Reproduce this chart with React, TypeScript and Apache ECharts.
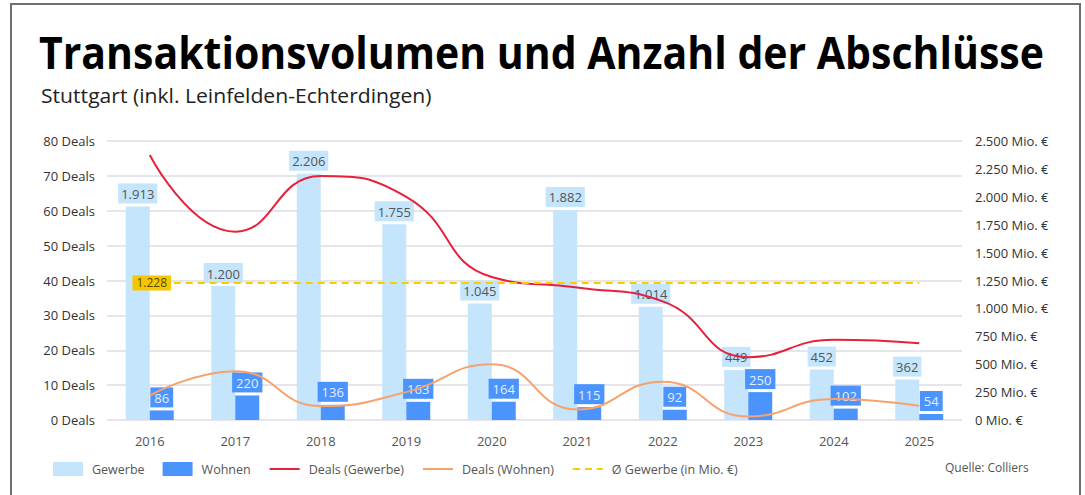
import React, { useEffect, useRef } from 'react';
import * as echarts from 'echarts';

const years = ['2016', '2017', '2018', '2019', '2020', '2021', '2022', '2023', '2024', '2025'];
const gewerbeVolume = [1913, 1200, 2206, 1755, 1045, 1882, 1014, 449, 452, 362];
const wohnenVolume = [86, 220, 136, 163, 164, 115, 92, 250, 102, 54];
const dealsGewerbe = [76, 54, 70, 64, 41, 38, 34, 18, 23, 22];
const dealsWohnen = [7, 14, 4, 8, 16, 3, 11, 1, 6, 4];
const avgGewerbe = 1228;

const titleText = 'Transaktionsvolumen und Anzahl der Abschlüsse';
const subtitleText = 'Stuttgart (inkl. Leinfelden-Echterdingen)';
const sourceText = 'Quelle: Colliers';

const fmt = (v: number) => String(v).replace(/\B(?=(\d{3})+(?!\d))/g, '.');

const FONT = '"Open Sans", "Noto Sans", sans-serif';
const C_GEW = '#c4e5fb';
const C_WOH = '#4c94fd';
const C_RED = '#e6213c';
const C_ORA = '#f7a26c';
const C_YEL = '#f8cd00';

function measure(text: string, font: string): number {
  const ctx = document.createElement('canvas').getContext('2d');
  if (!ctx) return 0;
  ctx.font = font;
  return ctx.measureText(text).width;
}

export default function App() {
  const ref = useRef<HTMLDivElement>(null);
  useEffect(() => {
    document.body.style.margin = '0';
    const chart = echarts.init(ref.current!, null, { renderer: 'svg' });

    const titleW = measure(titleText, 'bold 44px "Open Sans"') || 1005;
    const subW = measure(subtitleText, '20px "Open Sans"') || 391;
    const titleScale = 1005 / titleW;
    const subScale = 391 / subW;

    const hiddenSymbol = { opacity: 0 };

    chart.setOption({
      animation: false,
      backgroundColor: '#ffffff',
      textStyle: { fontFamily: FONT },
      grid: { left: 107, right: 123, top: 141, bottom: 75 },
      legend: {
        left: 53,
        top: 462,
        padding: 0,
        itemWidth: 30,
        itemHeight: 14,
        itemGap: 18,
        textStyle: { fontSize: 12.5, color: '#555', fontFamily: FONT, padding: [0, 0, 0, 4] },
        data: [
          { name: 'Gewerbe', icon: 'rect' },
          { name: 'Wohnen', icon: 'rect' },
          { name: 'Deals (Gewerbe)', itemStyle: hiddenSymbol },
          { name: 'Deals (Wohnen)', itemStyle: hiddenSymbol },
          { name: 'Ø Gewerbe (in Mio. €)', itemStyle: hiddenSymbol },
        ],
      },
      graphic: [
        {
          type: 'rect',
          silent: true,
          z: -10,
          shape: { x: 11, y: 4, width: 1069, height: 540 },
          style: { fill: 'none', stroke: '#6f6f6f', lineWidth: 2 },
        },
        {
          type: 'text',
          x: 39,
          y: 52,
          scaleX: titleScale,
          style: {
            text: titleText,
            fontSize: 44,
            fontWeight: 'bold',
            fontFamily: FONT,
            fill: '#000',
            verticalAlign: 'middle',
          },
        },
        {
          type: 'text',
          x: 41,
          y: 95,
          scaleX: subScale,
          style: {
            text: subtitleText,
            fontSize: 20,
            fontFamily: FONT,
            fill: '#222',
            verticalAlign: 'middle',
          },
        },
        {
          type: 'text',
          x: 945,
          y: 467,
          style: {
            text: sourceText,
            fontSize: 12,
            fontFamily: FONT,
            fill: '#555',
            verticalAlign: 'middle',
          },
        },
      ],
      xAxis: {
        type: 'category',
        data: years,
        axisLine: { show: false },
        axisTick: { show: false },
        axisLabel: { color: '#555', fontSize: 13, margin: 14, fontFamily: FONT },
      },
      yAxis: [
        {
          type: 'value',
          min: 0,
          max: 80,
          interval: 10,
          axisLine: { show: false },
          axisTick: { show: false },
          axisLabel: { formatter: '{value} Deals', color: '#333', fontSize: 13, margin: 12, fontFamily: FONT },
          splitLine: { lineStyle: { color: '#dcdce4', width: 1.5 } },
        },
        {
          type: 'value',
          min: 0,
          max: 2500,
          interval: 250,
          position: 'right',
          axisLine: { show: false },
          axisTick: { show: false },
          axisLabel: {
            formatter: (v: number) => fmt(v) + ' Mio. €',
            color: '#333',
            fontSize: 13,
            margin: 13,
            fontFamily: FONT,
          },
          splitLine: { show: false },
        },
      ],
      series: [
        {
          name: 'Gewerbe',
          type: 'bar',
          yAxisIndex: 1,
          data: gewerbeVolume,
          barWidth: 24,
          barGap: '0%',
          itemStyle: { color: C_GEW },
          label: {
            show: true,
            position: 'top',
            distance: 3,
            backgroundColor: C_GEW,
            color: '#555',
            fontSize: 13,
            padding: [4, 3, 3, 3],
            fontFamily: FONT,
            formatter: (p: any) => fmt(p.value),
          },
        },
        {
          name: 'Wohnen',
          type: 'bar',
          yAxisIndex: 1,
          data: wohnenVolume,
          barWidth: 24,
          barGap: '0%',
          itemStyle: { color: C_WOH },
          label: {
            show: true,
            position: 'top',
            distance: 3,
            backgroundColor: C_WOH,
            color: '#e4eeff',
            fontSize: 13,
            padding: [4, 4, 3, 4],
            fontFamily: FONT,
            formatter: (p: any) => fmt(p.value),
          },
        },
        {
          name: 'Deals (Gewerbe)',
          type: 'line',
          yAxisIndex: 0,
          data: dealsGewerbe,
          smooth: true,
          symbol: 'none',
          lineStyle: { color: C_RED, width: 2 },
          itemStyle: { color: C_RED },
        },
        {
          name: 'Deals (Wohnen)',
          type: 'line',
          yAxisIndex: 0,
          data: dealsWohnen,
          smooth: true,
          symbol: 'none',
          lineStyle: { color: C_ORA, width: 2 },
          itemStyle: { color: C_ORA },
        },
        {
          name: 'Ø Gewerbe (in Mio. €)',
          type: 'line',
          yAxisIndex: 1,
          data: years.map((_, i) =>
            i === 0
              ? {
                  value: avgGewerbe,
                  label: {
                    show: true,
                    position: 'inside',
                    offset: [2, 0],
                    backgroundColor: '#f6c700',
                    color: '#5a4a00',
                    fontSize: 12,
                    padding: [2, 4, 1, 4],
                    fontFamily: FONT,
                    formatter: (p: any) => fmt(p.value),
                  },
                }
              : avgGewerbe
          ),
          symbol: 'circle',
          symbolSize: 2,
          showSymbol: true,
          lineStyle: { color: C_YEL, width: 2, type: [7, 5] },
          itemStyle: { color: 'rgba(0,0,0,0)' },
        },
      ],
    });
    return () => chart.dispose();
  }, []);
  return <div ref={ref} style={{ width: 1085, height: 495 }} />;
}
